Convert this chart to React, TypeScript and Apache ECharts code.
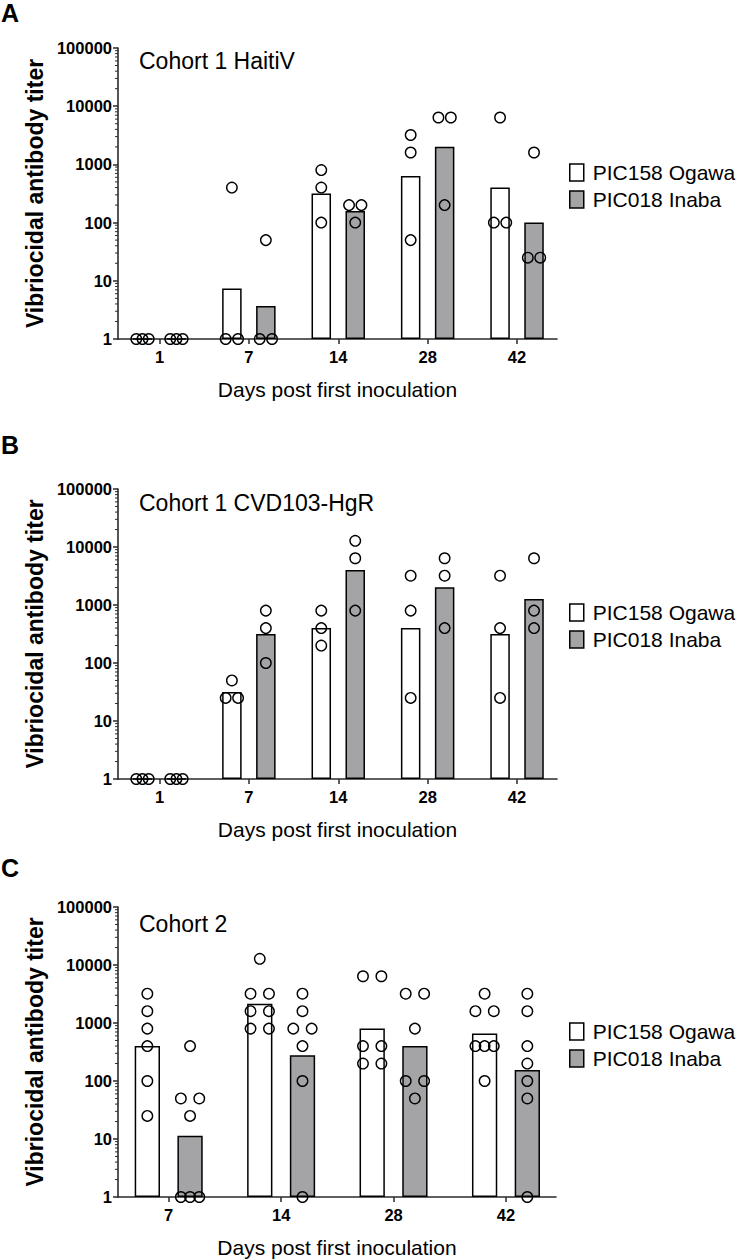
import React, { useEffect, useRef } from "react";
import * as echarts from "echarts";

// ---------- data ----------
const DAYS_AB = ["1", "7", "14", "28", "42"];
const DAYS_C = ["7", "14", "28", "42"];

const SERIES_OGAWA = "PIC158 Ogawa";
const SERIES_INABA = "PIC018 Inaba";

const TITLE_A = "Cohort 1 HaitiV";
const TITLE_B = "Cohort 1 CVD103-HgR";
const TITLE_C = "Cohort 2";

const Y_NAME = "Vibriocidal antibody titer";
const X_NAME = "Days post first inoculation";

// Panel A – individual titers and geometric-mean bars
const A_OGAWA_POINTS = [[1, 1, 1], [400, 1, 1], [800, 400, 100], [3200, 1600, 50], [6400, 100, 100]];
const A_INABA_POINTS = [[1, 1, 1], [50, 1, 1], [200, 200, 100], [6400, 6400, 200], [1600, 25, 25]];
const A_OGAWA_BARS = [1, 7.4, 317, 635, 400];
const A_INABA_BARS = [1, 3.7, 159, 2016, 100];

// Panel B
const B_OGAWA_POINTS = [[1, 1, 1], [50, 25, 25], [800, 400, 200], [3200, 800, 25], [3200, 400, 25]];
const B_INABA_POINTS = [[1, 1, 1], [800, 400, 100], [12800, 6400, 800], [6400, 3200, 400], [6400, 800, 400]];
const B_OGAWA_BARS = [1, 31.5, 400, 400, 317];
const B_INABA_BARS = [1, 317, 4032, 2016, 1270];

// Panel C
const C_OGAWA_POINTS = [
  [3200, 1600, 800, 400, 100, 25],
  [12800, 3200, 3200, 1600, 1600, 800, 800],
  [6400, 6400, 400, 400, 200, 200],
  [3200, 1600, 1600, 400, 400, 400, 100],
];
const C_INABA_POINTS = [
  [400, 50, 50, 25, 1, 1, 1],
  [3200, 1600, 800, 800, 400, 100, 1],
  [3200, 3200, 800, 100, 100, 50],
  [3200, 1600, 400, 200, 100, 50, 1],
];
const C_OGAWA_BARS = [400, 2153, 800, 656];
const C_INABA_BARS = [11.4, 279, 400, 154];

const Y_MIN = 1;
const Y_MAX = 100000;

// ---------- style / layout ----------
const FONT = "'Liberation Sans', Arial, Helvetica, sans-serif";
const GRAY = "#a4a4a7";
const AXIS_COLOR = "#2a2a2a";
const BAR_SHIFT = 0.19;

const PANELS = [
  {
    letter: "A", title: TITLE_A, days: DAYS_AB,
    ogawaPts: A_OGAWA_POINTS, inabaPts: A_INABA_POINTS, ogawaBars: A_OGAWA_BARS, inabaBars: A_INABA_BARS,
    grid: { left: 118, top: 48, width: 439, height: 291 },
    lead: 0.464, span: 4.911, barWidth: 19.5, jitter: 6.2,
    letterY: 13, titleY: 61, legendTop: 162,
  },
  {
    letter: "B", title: TITLE_B, days: DAYS_AB,
    ogawaPts: B_OGAWA_POINTS, inabaPts: B_INABA_POINTS, ogawaBars: B_OGAWA_BARS, inabaBars: B_INABA_BARS,
    grid: { left: 118, top: 489, width: 439, height: 290 },
    lead: 0.464, span: 4.911, barWidth: 19.5, jitter: 6.2,
    letterY: 445, titleY: 503, legendTop: 602,
  },
  {
    letter: "C", title: TITLE_C, days: DAYS_C,
    ogawaPts: C_OGAWA_POINTS, inabaPts: C_INABA_POINTS, ogawaBars: C_OGAWA_BARS, inabaBars: C_INABA_BARS,
    grid: { left: 118, top: 907, width: 438, height: 290 },
    lead: 0.451, span: 3.896, barWidth: 25.3, jitter: 9.2,
    letterY: 868, titleY: 924, legendTop: 1021,
  },
];

// horizontal spread of equal values within a group (pixels)
function spread(values: number[], unit: number): number[] {
  const counts: Record<string, number> = {};
  values.forEach((v) => (counts[v] = (counts[v] || 0) + 1));
  const seen: Record<string, number> = {};
  return values.map((v) => {
    const k = counts[v];
    const j = (seen[v] = seen[v] === undefined ? 0 : seen[v] + 1);
    const step = k % 2 === 0 ? 2 * unit : unit;
    return (j - (k - 1) / 2) * step;
  });
}

function minorTickValues(): number[] {
  const out: number[] = [];
  for (let d = 1; d < Y_MAX; d *= 10) {
    for (let m = 2; m <= 9; m++) out.push(m * d);
  }
  return out;
}

function buildOption() {
  const grids: any[] = [];
  const xAxes: any[] = [];
  const yAxes: any[] = [];
  const series: any[] = [];
  const legends: any[] = [];
  const graphics: any[] = [];
  const minors = minorTickValues();

  PANELS.forEach((p, pi) => {
    grids.push({ ...p.grid });
    const days = p.days;
    const L = p.lead;
    const centers = days.map((_, i) => i + L);
    xAxes.push({
      gridIndex: pi,
      type: "value",
      min: 0,
      max: p.span,
      position: "bottom",
      name: X_NAME,
      nameLocation: "middle",
      nameGap: 40,
      nameTextStyle: { fontFamily: FONT, fontSize: 21, color: "#000" },
      axisLine: { show: true, lineStyle: { color: AXIS_COLOR, width: 1.6 } },
      axisTick: { show: true, customValues: centers, length: 5, lineStyle: { color: AXIS_COLOR, width: 1.5 } },
      axisLabel: {
        customValues: centers,
        formatter: (v: number) => days[Math.round(v - L)] ?? "",
        fontFamily: FONT, fontSize: 16.5, fontWeight: "bold", color: "#000", margin: 9,
      },
      splitLine: { show: false },
    });
    yAxes.push({
      gridIndex: pi,
      type: "log",
      logBase: 10,
      min: Y_MIN,
      max: Y_MAX,
      position: "left",
      name: Y_NAME,
      nameLocation: "middle",
      nameGap: 67,
      nameTextStyle: { fontFamily: FONT, fontSize: 23, fontWeight: "bold", color: "#000" },
      axisLine: { show: true, lineStyle: { color: AXIS_COLOR, width: 1.6 } },
      axisTick: { show: true, length: 5, lineStyle: { color: AXIS_COLOR, width: 1.5 } },
      axisLabel: {
        formatter: (v: number) => String(Math.round(v)),
        fontFamily: FONT, fontSize: 16.5, fontWeight: "bold", color: "#000", margin: 6,
      },
      splitLine: { show: false },
    });

    const barCommon = {
      type: "bar",
      xAxisIndex: pi,
      yAxisIndex: pi,
      barWidth: p.barWidth,
      barGap: "-100%",
      z: 2,
    };
    series.push({
      ...barCommon,
      name: SERIES_OGAWA,
      itemStyle: { color: "#ffffff", borderColor: "#000", borderWidth: 1.5 },
      data: p.ogawaBars.map((v, i) => [centers[i] - BAR_SHIFT, v]),
    });
    series.push({
      ...barCommon,
      name: SERIES_INABA,
      itemStyle: { color: GRAY, borderColor: "#000", borderWidth: 1.5 },
      data: p.inabaBars.map((v, i) => [centers[i] + BAR_SHIFT, v]),
    });

    const pts = (groups: number[][], shift: number) => {
      const out: any[] = [];
      groups.forEach((g, i) => {
        const offs = spread(g, p.jitter);
        g.forEach((v, k) => out.push({ value: [centers[i] + shift, v], symbolOffset: [offs[k], 0] }));
      });
      return out;
    };
    const scatterCommon = {
      type: "scatter",
      xAxisIndex: pi,
      yAxisIndex: pi,
      symbol: "circle",
      symbolSize: 10.5,
      itemStyle: { color: "rgba(0,0,0,0)", borderColor: "#000", borderWidth: 1.4, opacity: 1 },
      z: 4,
      clip: false,
    };
    series.push({ ...scatterCommon, name: SERIES_OGAWA + " titers", data: pts(p.ogawaPts, -BAR_SHIFT) });
    series.push({ ...scatterCommon, name: SERIES_INABA + " titers", data: pts(p.inabaPts, BAR_SHIFT) });

    // minor log ticks on the y axis
    series.push({
      type: "custom",
      name: "minor ticks " + pi,
      xAxisIndex: pi,
      yAxisIndex: pi,
      silent: true,
      clip: false,
      z: 3,
      data: minors.map((v) => [0, v]),
      renderItem: (params: any, api: any) => {
        const c = api.coord([api.value(0), api.value(1)]);
        return {
          type: "line",
          shape: { x1: c[0] - 3, y1: c[1], x2: c[0], y2: c[1] },
          style: { stroke: AXIS_COLOR, lineWidth: 1 },
        };
      },
    });

    legends.push({
      orient: "vertical",
      left: 569,
      top: p.legendTop,
      padding: 0,
      itemWidth: 14,
      itemHeight: 17,
      itemGap: 6,
      icon: "rect",
      selectedMode: false,
      textStyle: { fontFamily: FONT, fontSize: 21, color: "#000", lineHeight: 18, padding: [0, 0, 0, 4] },
      data: [
        { name: SERIES_OGAWA, itemStyle: { color: "#ffffff", borderColor: "#000", borderWidth: 1.5 } },
        { name: SERIES_INABA, itemStyle: { color: GRAY, borderColor: "#000", borderWidth: 1.5 } },
      ],
    });

    graphics.push({
      type: "text",
      left: 1,
      top: p.letterY - 13,
      style: { text: p.letter, fontFamily: FONT, fontSize: 25, fontWeight: "bold", fill: "#000" },
    });
    graphics.push({
      type: "text",
      x: 139,
      y: p.titleY,
      style: {
        text: p.title, fontFamily: FONT, fontSize: 23, fill: "#000",
        verticalAlign: "middle", align: "left",
      },
    });
  });

  return {
    animation: false,
    backgroundColor: "#ffffff",
    textStyle: { fontFamily: FONT },
    grid: grids,
    xAxis: xAxes,
    yAxis: yAxes,
    legend: legends,
    series,
    graphic: graphics,
  };
}

export default function App() {
  const ref = useRef<HTMLDivElement>(null);
  useEffect(() => {
    if (!ref.current) return;
    const chart = echarts.init(ref.current, undefined, { renderer: "svg" });
    chart.setOption(buildOption() as any);
    return () => chart.dispose();
  }, []);
  return (
    <div
      ref={ref}
      style={{ position: "fixed", left: 0, top: 0, width: 741, height: 1260, background: "#fff" }}
    />
  );
}
